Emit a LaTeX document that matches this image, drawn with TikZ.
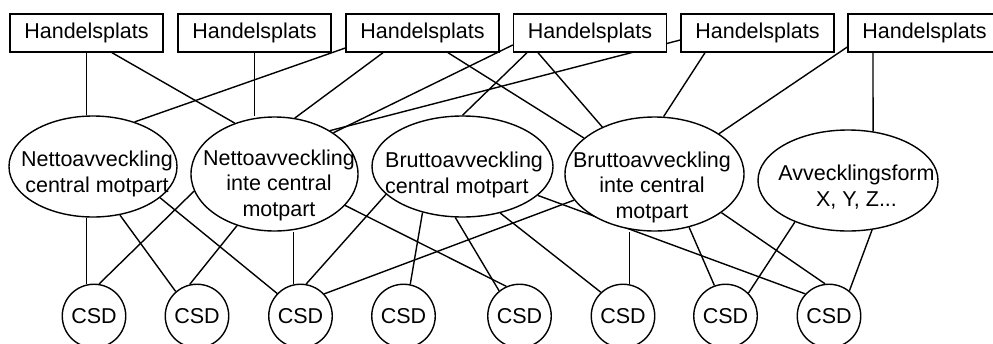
\documentclass[tikz,border=0pt]{standalone}
\usepackage{fontspec}
\setmainfont{Liberation Sans}
\usetikzlibrary{shapes.geometric,backgrounds}
\begin{document}
\begin{tikzpicture}[x=1pt,y=-1pt,
  every node/.style={font=\fontsize{21.5}{25.5}\selectfont, inner sep=0pt},
  hbox/.style={draw, fill=white, line width=1.4pt, minimum width=153pt, minimum height=38pt},
  ell/.style={draw, fill=white, ellipse, line width=1.4pt},
  csd/.style={draw, fill=white, circle, line width=1.4pt, minimum size=63.5pt},
  lbl/.style={align=center},
  conn/.style={line width=1.4pt}]
\useasboundingbox (0,0) rectangle (993,343);
\clip (0,0) rectangle (993,343);

% Handelsplatser
\node[hbox] (h1) at (86.5,33) {Handelsplats};
\node[hbox] (h2) at (254.5,33) {Handelsplats};
\node[hbox] (h3) at (422.5,33) {Handelsplats};
\node[hbox] (h4) at (590,33) {Handelsplats};
\node[hbox] (h5) at (757.5,33) {Handelsplats};
\node[hbox] (h6) at (924.5,33) {Handelsplats};

% Avvecklingsformer
\node[ell, minimum width=168pt, minimum height=101pt] (e1) at (93,166.5) {};
\node[ell, minimum width=167pt, minimum height=114pt] (e2) at (274.5,174) {};
\node[ell, minimum width=181pt, minimum height=101pt] (e3) at (462.5,166.5) {};
\node[ell, minimum width=179pt, minimum height=114pt] (e4) at (654.5,174) {};
\node[ell, minimum width=180pt, minimum height=101pt] (e5) at (848,180.5) {};

\node[lbl] (t1) at (97,174) {Nettoavveckling\\central motpart};
\node[lbl] (t2) at (279,185) {Nettoavveckling\\inte central\\motpart};
\node[align=left, anchor=west] (t3) at (385,174.8) {Bruttoavveckling\\central motpart};
\node[lbl] (t4) at (652,187) {Bruttoavveckling\\inte central\\motpart};
\node[lbl] (t5) at (856.5,187.3) {Avvecklingsform\\X, Y, Z...};

% CSD
\node[csd] (c1) at (94,316) {CSD};
\node[csd] (c2) at (197,316) {CSD};
\node[csd] (c3) at (300.5,316) {CSD};
\node[csd] (c4) at (403.5,316) {CSD};
\node[csd] (c5) at (519.5,316) {CSD};
\node[csd] (c6) at (623,316) {CSD};
\node[csd] (c7) at (725.5,316) {CSD};
\node[csd] (c8) at (829,316) {CSD};

\begin{pgfonlayer}{background}
% top connections
\draw[conn] (h1.south) -- (h1.south |- e1.north);
\draw[conn] ([xshift=25.5pt]h1.south) -- (e2.128);
\draw[conn] (h2.south) -- (h2.south |- e2.north);
\draw[conn] ([yshift=-15pt]h3.west) -- (e1.47);
\draw[conn] ([xshift=-39.5pt]h3.south) -- (e2.70);
\draw[conn] ([xshift=25.5pt]h3.south) -- (e4.153);
\draw[conn] ([yshift=-12pt]h4.west) -- (e2.35);
\draw[conn] ([xshift=-63pt]h4.south) -- (e3.north);
\draw[conn] ([xshift=-52pt]h4.south) -- (e4.138);
\draw[conn] ([yshift=-7pt]h5.west) -- (e2.38);
\draw[conn] ([xshift=-52.5pt]h5.south) -- (e4.81);
\draw[conn] ([yshift=-14pt]h6.west) -- (e4.32);
\draw[conn] ([xshift=-51.5pt]h6.south) -- (e5.63);
% bottom connections
\draw[conn] (c1.103) -- (c1.103 |- e1.south);
\draw[conn] (e1.-61) -- (c2.131);
\draw[conn] (e1.-25) -- (c3.136);
\draw[conn] (e2.192) -- (c1.81);
\draw[conn] (e2.234) -- (c2.103);
\draw[conn] (c3.103) -- (c3.103 |- e2.south);
\draw[conn] (e2.-24) -- (c5.114);
\draw[conn] (e3.200) -- (c3.80);
\draw[conn] (e3.229) -- (c4.78);
\draw[conn] (e3.262) -- (c5.129);
\draw[conn] (e3.-51) -- (c6.133);
\draw[conn] (e3.-21) -- (c8.137);
\draw[conn] (e4.198) -- (c3.43);
\draw[conn] (c6.78) -- (c6.78 |- e4.south);
\draw[conn] (e4.-57) -- (c7.110);
\draw[conn] (e4.-30) -- (c8.97);
\draw[conn] (e5.218) -- (c7.45);
\draw[conn] (e5.-64) -- (c8.51);
\end{pgfonlayer}
\end{tikzpicture}
\end{document}
